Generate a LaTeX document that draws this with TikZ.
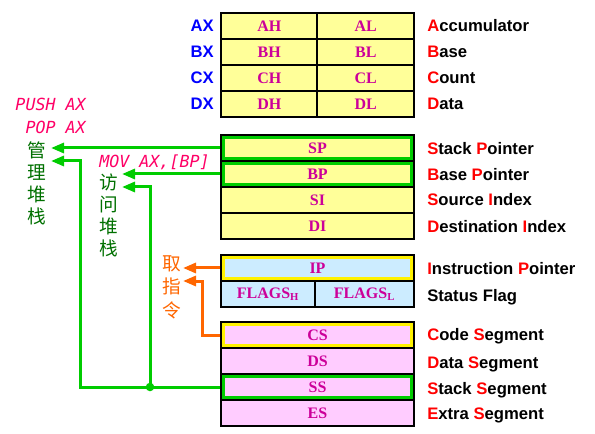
\documentclass[tikz,border=0pt]{standalone}
\usepackage{fontspec}
\usepackage{xcolor}
\usetikzlibrary{arrows.meta}
\setmainfont{Liberation Serif}
\setsansfont{Liberation Sans}
\setmonofont{DejaVu Sans Mono}
\newfontfamily\cjk{Noto Sans CJK SC}
\definecolor{regyellow}{RGB}{255,255,153}
\definecolor{regblue}{RGB}{204,236,255}
\definecolor{regpink}{RGB}{255,204,255}
\definecolor{regtext}{RGB}{204,0,153}
\definecolor{linegreen}{RGB}{0,204,0}
\definecolor{lineorange}{RGB}{255,102,0}
\definecolor{cjkgreen}{RGB}{0,112,0}
\definecolor{asmred}{RGB}{255,0,102}
\definecolor{xblue}{RGB}{0,0,255}
\newcommand{\fl}[1]{\textcolor{red}{#1}}

\begin{document}
\begin{tikzpicture}[x=0.75pt,y=-0.75pt,
  cell/.style={draw=black,line width=1.5pt,minimum height=19.5pt,inner sep=0pt,
    font=\fontsize{12}{14}\selectfont\bfseries,text=regtext},
  half/.style={minimum width=72.4pt},
  full/.style={minimum width=144.75pt},
  hlgreen/.style={draw=linegreen,line width=2.25pt},
  hlyellow/.style={draw=yellow,line width=2.25pt},
  xname/.style={anchor=east,inner sep=0pt,text height=9pt,text depth=0pt,
    font=\sffamily\bfseries\fontsize{12.5}{15}\selectfont,text=xblue},
  desc/.style={anchor=west,inner sep=0pt,text height=9pt,text depth=0pt,
    font=\sffamily\bfseries\fontsize{12.5}{15}\selectfont},
  asm/.style={inner sep=0pt,text height=9pt,text depth=0pt,
    font=\ttfamily\itshape\fontsize{12.5}{15}\selectfont,text=asmred},
  cjktext/.style={align=center,inner sep=0pt,font=\cjk\fontsize{14}{16.5}\selectfont},
  garrow/.style={draw=linegreen,line width=2.25pt,-{Triangle[length=9.75pt,width=7.5pt]}},
  oarrow/.style={draw=lineorange,line width=2.25pt,-{Triangle[length=9.75pt,width=7.5pt]}}]
\useasboundingbox (0,0) rectangle (595,434);
% general registers
\node[cell,half,fill=regyellow] (ah) at (269.25,26) {AH};
\node[cell,half,fill=regyellow] (al) at (365.75,26) {AL};
\node[cell,half,fill=regyellow] (bh) at (269.25,52) {BH};
\node[cell,half,fill=regyellow] (bl) at (365.75,52) {BL};
\node[cell,half,fill=regyellow] (ch) at (269.25,78) {CH};
\node[cell,half,fill=regyellow] (cl) at (365.75,78) {CL};
\node[cell,half,fill=regyellow] (dh) at (269.25,104) {DH};
\node[cell,half,fill=regyellow] (dl) at (365.75,104) {DL};
\node[xname] (ax) at (214,26) {AX};
\node[xname] (bx) at (214,52) {BX};
\node[xname] (cx) at (214,78) {CX};
\node[xname] (dx) at (214,104) {DX};
% pointer and index registers
\node[cell,full,fill=regyellow] (sp) at (317.5,148) {SP};
\node[cell,full,fill=regyellow] (bp) at (317.5,174) {BP};
\node[cell,full,fill=regyellow] (si) at (317.5,200) {SI};
\node[cell,full,fill=regyellow] (di) at (317.5,226) {DI};
\draw[hlgreen] ([shift={(3.5,3.5)}]sp.north west) rectangle ([shift={(-3.5,-3.5)}]sp.south east);
\draw[hlgreen] ([shift={(3.5,3.5)}]bp.north west) rectangle ([shift={(-3.5,-3.5)}]bp.south east);
% IP and flags
\node[cell,full,fill=regblue] (ip) at (317.5,268) {IP};
\node[cell,minimum width=70.5pt,fill=regblue] (flh) at (268,294) {FLAGS\textsubscript{H}};
\node[cell,minimum width=74.25pt,fill=regblue] (fll) at (364.5,294) {FLAGS\textsubscript{L}};
\draw[hlyellow] ([shift={(3.5,3.5)}]ip.north west) rectangle ([shift={(-3.5,-3.5)}]ip.south east);
% segment registers
\node[cell,full,fill=regpink] (cs) at (317.5,335) {CS};
\node[cell,full,fill=regpink] (ds) at (317.5,361) {DS};
\node[cell,full,fill=regpink] (ss) at (317.5,387) {SS};
\node[cell,full,fill=regpink] (es) at (317.5,413) {ES};
\draw[hlyellow] ([shift={(3.5,3.5)}]cs.north west) rectangle ([shift={(-3.5,-3.5)}]cs.south east);
\draw[hlgreen] ([shift={(3.5,3.5)}]ss.north west) rectangle ([shift={(-3.5,-3.5)}]ss.south east);
% names on the right
\node[desc] (nax) at (427,26) {\fl{A}ccumulator};
\node[desc] (nbx) at (427,52) {\fl{B}ase};
\node[desc] (ncx) at (427,78) {\fl{C}ount};
\node[desc] (ndx) at (427,104) {\fl{D}ata};
\node[desc] (nsp) at (427,149) {\fl{S}tack \fl{P}ointer};
\node[desc] (nbp) at (427,175) {\fl{B}ase \fl{P}ointer};
\node[desc] (nsi) at (427,200) {\fl{S}ource \fl{I}ndex};
\node[desc] (ndi) at (427,227) {\fl{D}estination \fl{I}ndex};
\node[desc] (nip) at (427,268) {\fl{I}nstruction \fl{P}ointer};
\node[desc] (nfl) at (427,295) {Status Flag};
\node[desc] (ncs) at (427,334) {\fl{C}ode \fl{S}egment};
\node[desc] (nds) at (427,362) {\fl{D}ata \fl{S}egment};
\node[desc] (nss) at (427,388) {\fl{S}tack \fl{S}egment};
\node[desc] (nes) at (427,413) {\fl{E}xtra \fl{S}egment};
% texts on the left
\node[asm,anchor=east] (push) at (86,105) {PUSH AX};
\node[asm,anchor=east] (pop) at (86,128) {POP AX};
\node[asm,anchor=west] (mov) at (99,162) {MOV AX,[BP]};
\node[cjktext,text=cjkgreen] (guanli) at (37,183) {管\\理\\堆\\栈};
\node[cjktext,text=cjkgreen] (fangwen) at (109,215) {访\\问\\堆\\栈};
\node[cjktext,text=lineorange,font=\cjk\fontsize{14}{17.6}\selectfont] (quzhi) at (172,287) {取\\指\\令};
% connectors
\coordinate (guanA) at (51,148);
\coordinate (guanB) at (51,161);
\coordinate (bendA) at (80,161);
\coordinate (fangA) at (122,174);
\coordinate (fangB) at (122,187);
\coordinate (bendB) at (150,187);
\coordinate (joint) at (150,387);
\coordinate (quA) at (183,268);
\coordinate (quB) at (183,281);
\coordinate (bendC) at (202,281);
\draw[garrow] (sp.west) -- (guanA);
\draw[garrow] (bp.west) -- (fangA);
\draw[garrow] (ss.west) -| (bendA) -- (guanB);
\draw[garrow] (joint) -- (bendB) -- (fangB);
\fill[linegreen] (joint) circle[radius=3.2pt];
\draw[oarrow] (ip.west) -- (quA);
\draw[oarrow] (cs.west) -| (bendC) -- (quB);
\end{tikzpicture}
\end{document}
